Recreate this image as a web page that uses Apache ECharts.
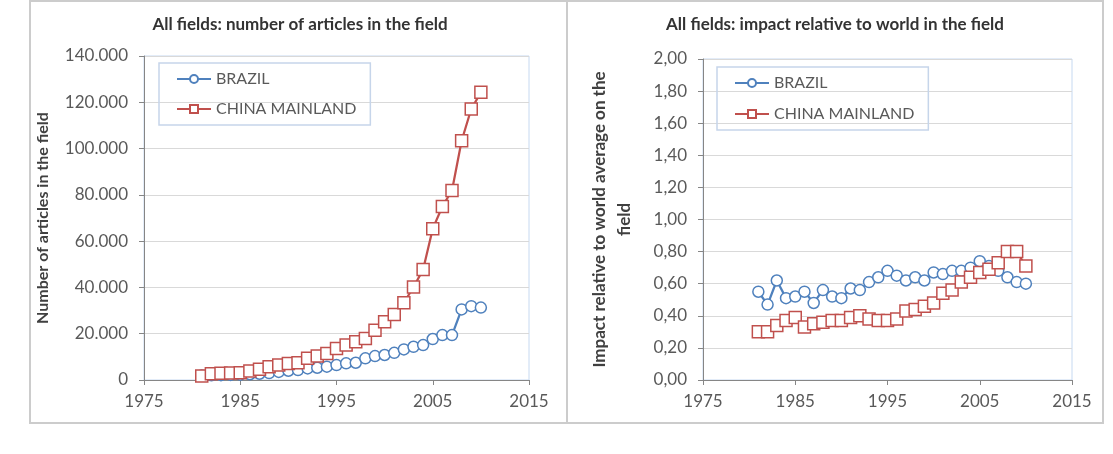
<!DOCTYPE html>
<html>
<head>
<meta charset="utf-8">
<script src="https://cdn.jsdelivr.net/npm/echarts@6/dist/echarts.min.js"></script>
<style>
  html, body { margin: 0; padding: 0; background: #fff; }
  #chart { width: 1113px; height: 454px; }
</style>
</head>
<body>
<div id="chart"></div>
<script>
// years of the two series
var years = [1981, 1982, 1983, 1984, 1985, 1986, 1987, 1988, 1989, 1990,
  1991, 1992, 1993, 1994, 1995, 1996, 1997, 1998, 1999, 2000,
  2001, 2002, 2003, 2004, 2005, 2006, 2007, 2008, 2009, 2010];

// left: number of articles
var brazilArticles = [1900, 2000, 2100, 2200, 2300, 2500, 2700, 3000, 3500, 4000,
  4300, 5000, 5300, 5750, 6450, 7200, 7450, 9350, 10350, 10800,
  11750, 13200, 14350, 15100, 17700, 19400, 19400, 30500, 31900, 31300];
var chinaArticles = [1700, 2700, 2900, 3000, 3100, 3900, 4600, 5750, 6450, 7150,
  7400, 9350, 10350, 11500, 13650, 15100, 16500, 17950, 21550, 25150,
  28300, 33350, 40200, 47700, 65400, 75000, 81900, 103400, 117100, 124300];

// right: impact relative to world
var brazilImpact = [0.55, 0.47, 0.62, 0.51, 0.52, 0.55, 0.48, 0.56, 0.52, 0.51,
  0.57, 0.56, 0.61, 0.64, 0.68, 0.65, 0.62, 0.64, 0.62, 0.67,
  0.66, 0.68, 0.68, 0.70, 0.74, 0.71, 0.68, 0.64, 0.61, 0.60];
var chinaImpact = [0.30, 0.30, 0.34, 0.37, 0.39, 0.33, 0.35, 0.36, 0.37, 0.37,
  0.39, 0.40, 0.38, 0.37, 0.37, 0.38, 0.43, 0.44, 0.46, 0.48,
  0.54, 0.56, 0.61, 0.64, 0.67, 0.69, 0.73, 0.80, 0.80, 0.71];

var titles = ["All fields: number of articles in the field", "All fields: impact relative to world in the field"];
var yNames = ["Number of articles in the field", "Impact relative to world average on the\nfield"];
var seriesNames = ["BRAZIL", "CHINA MAINLAND"];

var FONT = "Lato, 'Open Sans', sans-serif";
var TXT = "#595959";
var BLUE = "#4f81bd";
var RED = "#c0504d";

function pairs(xs, ys) {
  var out = [];
  for (var i = 0; i < xs.length; i++) out.push([xs[i], ys[i]]);
  return out;
}

function xAxisOpt(idx) {
  return {
    type: "value", gridIndex: idx, min: 1975, max: 2015, interval: 10,
    axisLine: { show: true, lineStyle: { color: "#868686" } },
    axisTick: { show: true, length: 5, lineStyle: { color: "#868686" } },
    axisLabel: { color: TXT, fontFamily: FONT, fontSize: 17, margin: 13,
      formatter: function (v) { return String(v); } },
    splitLine: { show: false }
  };
}

function yAxisOpt(idx, max, interval, fmt, name, gap, nameSize) {
  return {
    type: "value", gridIndex: idx, min: 0, max: max, interval: interval,
    name: name, nameLocation: "middle", nameRotate: 90, nameGap: gap,
    nameTextStyle: { color: "#404040", fontFamily: FONT, fontSize: nameSize, fontWeight: "bold", lineHeight: 25 },
    axisLine: { show: true, lineStyle: { color: "#868686" } },
    axisTick: { show: true, length: 5, lineStyle: { color: "#868686" } },
    axisLabel: { color: TXT, fontFamily: FONT, fontSize: 17, margin: 16, formatter: fmt },
    splitLine: { show: true, lineStyle: { color: "#d9d9d9", width: 1 } }
  };
}

function lineSeries(name, idx, data, color, symbol, size) {
  return {
    name: name, type: "line", xAxisIndex: idx, yAxisIndex: idx,
    data: data, symbol: symbol, symbolSize: size, showAllSymbol: true,
    lineStyle: { color: color, width: 2.25 },
    itemStyle: { color: "#ffffff", borderColor: color, borderWidth: 1.5 },
    emphasis: { disabled: true },
    animation: false
  };
}

function legendOpt(left, top, gap) {
  return {
    left: left, top: top, orient: "vertical",
    data: seriesNames,
    itemWidth: 34, itemHeight: 10, itemGap: gap,
    padding: [8, 14, 8, 17],
    borderColor: "#c6d5ea", borderWidth: 1.5, borderRadius: 0,
    textStyle: { color: TXT, fontFamily: FONT, fontSize: 16 },
    selectedMode: false
  };
}

var chart = echarts.init(document.getElementById("chart"), null, { renderer: "canvas" });

var option = {
  backgroundColor: "#ffffff",
  animation: false,
  graphic: [
    { type: "rect", shape: { x: 30, y: 1, width: 537, height: 422 }, style: { fill: "none", stroke: "#cccccc", lineWidth: 2 }, z: -1 },
    { type: "rect", shape: { x: 567, y: 1, width: 536, height: 422 }, style: { fill: "none", stroke: "#cccccc", lineWidth: 2 }, z: -1 }
  ],
  title: [
    { text: titles[0], left: 300, top: 16, textAlign: "center", padding: 0,
      textStyle: { color: "#333333", fontFamily: FONT, fontSize: 17, fontWeight: "bold" } },
    { text: titles[1], left: 835, top: 16, textAlign: "center", padding: 0,
      textStyle: { color: "#333333", fontFamily: FONT, fontSize: 17, fontWeight: "bold" } }
  ],
  legend: [legendOpt(159, 63, 14), legendOpt(717, 67, 15)],
  grid: [
    { left: 144, right: 584, top: 56, bottom: 74, show: true, borderColor: "#c6d9f1", borderWidth: 1 },
    { left: 703, right: 41, top: 59, bottom: 74, show: true, borderColor: "#c6d9f1", borderWidth: 1 }
  ],
  xAxis: [xAxisOpt(0), xAxisOpt(1)],
  yAxis: [
    yAxisOpt(0, 140000, 20000, function (v) {
      return String(v).replace(/\B(?=(\d{3})+(?!\d))/g, ".");
    }, yNames[0], 89, 16),
    yAxisOpt(1, 2, 0.2, function (v) {
      return v.toFixed(2).replace(".", ",");
    }, yNames[1], 66, 17)
  ],
  series: [
    lineSeries(seriesNames[0], 0, pairs(years, brazilArticles), BLUE, "circle", 11),
    lineSeries(seriesNames[1], 0, pairs(years, chinaArticles), RED, "rect", 12),
    lineSeries(seriesNames[0], 1, pairs(years, brazilImpact), BLUE, "circle", 11),
    lineSeries(seriesNames[1], 1, pairs(years, chinaImpact), RED, "rect", 12)
  ]
};

chart.setOption(option);
</script>
</body>
</html>
